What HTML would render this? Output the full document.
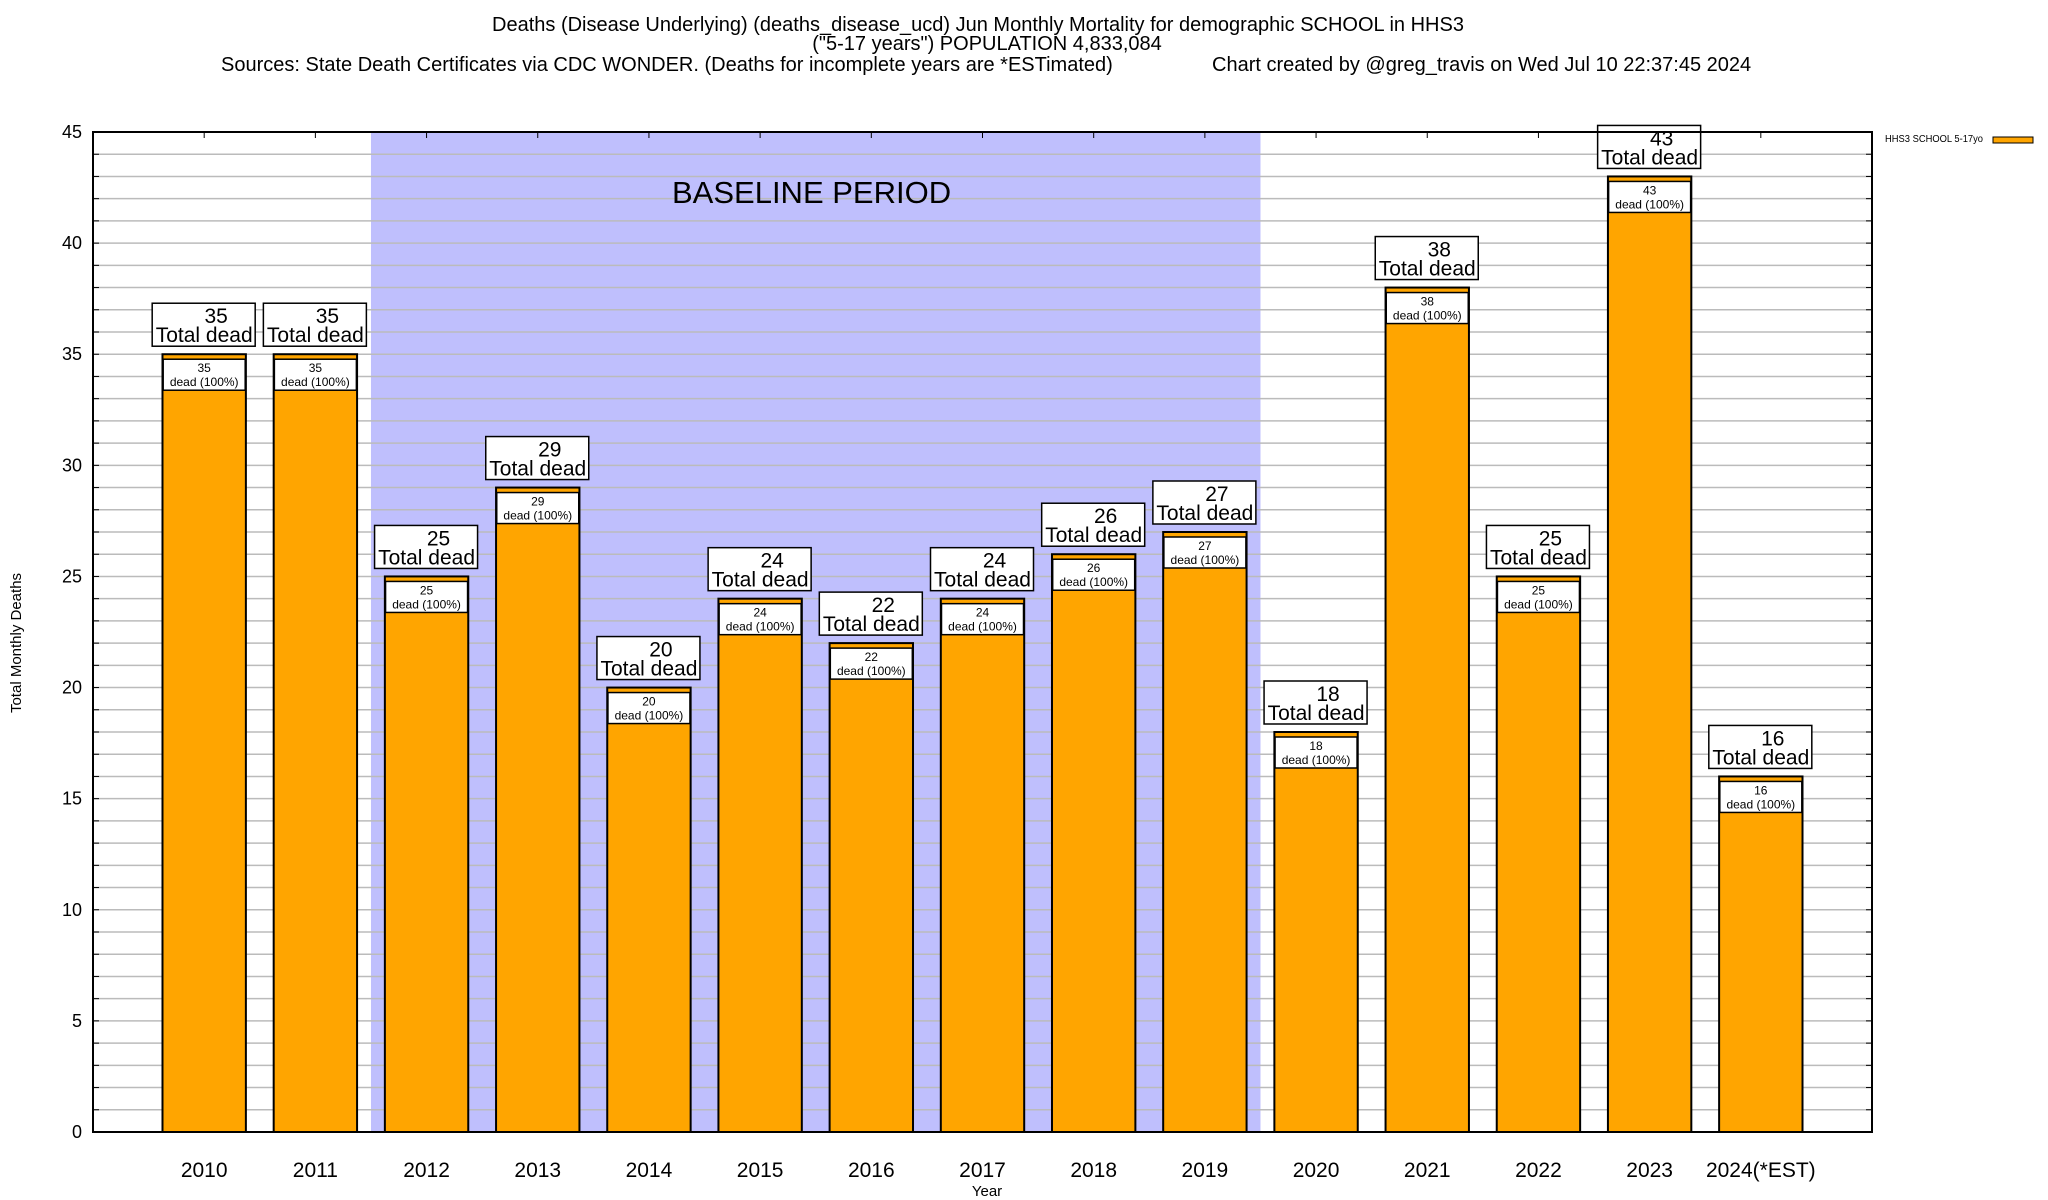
<!DOCTYPE html>
<html><head><meta charset="utf-8"><style>
html,body{margin:0;padding:0;background:#fff;width:2048px;height:1200px;overflow:hidden}
svg{display:block;font-family:"Liberation Sans",sans-serif}
</style></head><body>
<svg id="chart" width="2048" height="1200" xmlns="http://www.w3.org/2000/svg">
<text x="978" y="31" font-size="20" text-anchor="middle">Deaths (Disease Underlying) (deaths_disease_ucd) Jun Monthly Mortality for demographic SCHOOL in HHS3</text>
<text x="987" y="50" font-size="20" text-anchor="middle">("5-17 years") POPULATION 4,833,084</text>
<text x="221" y="71" font-size="20">Sources: State Death Certificates via CDC WONDER. (Deaths for incomplete years are *ESTimated)</text>
<text x="1212" y="71" font-size="20">Chart created by @greg_travis on Wed Jul 10 22:37:45 2024</text>
<g id="plot"></g>
<text x="987" y="1196" font-size="15" text-anchor="middle">Year</text>
<text transform="translate(21,643) rotate(-90)" font-size="15" text-anchor="middle">Total Monthly Deaths</text>
<text x="1885" y="142" font-size="10" textLength="98" lengthAdjust="spacingAndGlyphs">HHS3 SCHOOL 5-17yo</text>
<rect x="1993" y="137" width="40" height="6" fill="#ffa500" stroke="#000" stroke-width="1"/>
</svg>
<script>
const categories = ["2010","2011","2012","2013","2014","2015","2016","2017","2018","2019","2020","2021","2022","2023","2024(*EST)"];
const deaths = [35,35,25,29,20,24,22,24,26,27,18,38,25,43,16];
const yTicks = [0,5,10,15,20,25,30,35,40,45];
const baselineRange = [1.5, 9.5];

const L=93,R=1872,T=132,B=1132,XMIN=-1,XMAX=15,YMAX=45;
const xs=v=>L+(v-XMIN)/(XMAX-XMIN)*(R-L);
const ys=v=>B-v/YMAX*(B-T);
const NS="http://www.w3.org/2000/svg";
const g=document.getElementById('plot');
function mk(tag,attrs,parent){const e=document.createElementNS(NS,tag);for(const k in attrs)e.setAttribute(k,attrs[k]);(parent||g).appendChild(e);return e;}

const sh=mk('rect',{x:xs(baselineRange[0]),y:T,width:xs(baselineRange[1])-xs(baselineRange[0]),height:B-T,fill:'#bfbffd'});


for(let v=1;v<YMAX;v++){
  const ln=mk('line',{x1:L,x2:R,y1:ys(v),y2:ys(v),stroke:'#bbb','stroke-width':1.5});
  
  
  mk('line',{x1:L,x2:L+6,y1:ys(v),y2:ys(v),stroke:'#000','stroke-width':1});
  mk('line',{x1:R-6,x2:R,y1:ys(v),y2:ys(v),stroke:'#000','stroke-width':1});
}
const bl=mk('text',{x:672,y:203,'font-size':31});
bl.textContent='BASELINE PERIOD';


yTicks.forEach(v=>{
  const t=mk('text',{x:82,y:ys(v)+6,'font-size':18,'text-anchor':'end'});
  t.textContent=v;
  
  
});
const bw=0.75*(xs(1)-xs(0));
categories.forEach((c,i)=>{
  const cx=xs(i), top=ys(deaths[i]);
  mk('line',{x1:cx,x2:cx,y1:T,y2:T+6,stroke:'#000'});
  mk('line',{x1:cx,x2:cx,y1:B-6,y2:B,stroke:'#000'});
  const b=mk('rect',{x:cx-bw/2,y:top,width:bw,height:B-top,fill:'#ffa500',stroke:'#000','stroke-width':2});
  
  
  const ib=mk('rect',{x:cx-41,y:top+5,width:82,height:31,fill:'#fff',stroke:'#000','stroke-width':1.5});
  
  
  const t1=mk('text',{x:cx,y:top+18,'font-size':12,'text-anchor':'middle'});t1.textContent=deaths[i];
  
  
  const t2=mk('text',{x:cx,y:top+32,'font-size':12,'text-anchor':'middle'});t2.textContent='dead (100%)';
  
  
  const ob=mk('rect',{x:cx-52,y:top-51,width:103,height:43,fill:'#fff',stroke:'#000','stroke-width':1.5});
  
  
  const t3=mk('text',{x:cx+12,y:top-31,'font-size':21,'text-anchor':'middle'});t3.textContent=deaths[i];
  
  
  const t4=mk('text',{x:cx,y:top-12,'font-size':21,'text-anchor':'middle'});t4.textContent='Total dead';
  
  
  const xl=mk('text',{x:cx,y:1177,'font-size':21,'text-anchor':'middle'});xl.textContent=c;
  
  
});
const fr=mk('rect',{x:L,y:T,width:R-L,height:B-T,fill:'none',stroke:'#000','stroke-width':2});


</script>
</body></html>
